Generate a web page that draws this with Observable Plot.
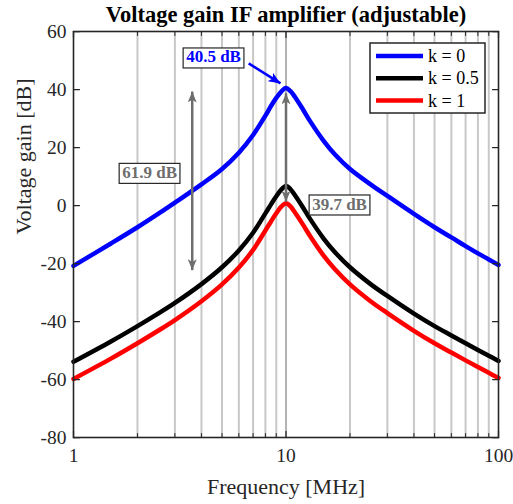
<!DOCTYPE html>
<html>
<head>
<meta charset="utf-8">
<script src="https://cdn.jsdelivr.net/npm/d3@7"></script>
<script src="https://cdn.jsdelivr.net/npm/@observablehq/plot@0.6"></script>
<style>
html, body { margin: 0; padding: 0; background: #fff; }
#chart { width: 513px; height: 504px; }
</style>
</head>
<body>
<div id="chart"></div>
<script>
// ---- data ----
const freqMHz = [1, 1.5, 2, 2.5, 3, 4, 5, 6, 7, 8, 8.5, 9, 9.5, 10, 10.5, 11, 12, 13, 15, 17, 20, 25, 30, 40, 50, 60, 70, 80, 90, 100];
const gainK0  = [-20.8, -13.1, -7.5, -2.9, 1.0, 7.3, 12.6, 18.2, 24.3, 31.0, 34.3, 37.1, 39.3, 40.5, 39.4, 37.5, 33.2, 29.0, 22.4, 17.6, 12.6, 7.3, 3.3, -2.9, -7.5, -11.0, -14.0, -16.5, -18.6, -20.5];
const gainK05 = [-53.9, -46.9, -41.6, -37.3, -33.6, -27.1, -21.3, -15.5, -9.4, -2.7, 0.4, 3.2, 5.5, 6.7, 5.6, 3.6, -0.6, -4.7, -11.3, -16.1, -21.3, -27.1, -31.2, -37.3, -41.6, -44.8, -47.5, -49.8, -51.8, -53.6];
const gainK1  = [-59.8, -52.8, -47.5, -43.2, -39.5, -33.0, -27.2, -21.4, -15.3, -8.6, -5.5, -2.7, -0.4, 0.8, -0.3, -2.3, -6.5, -10.6, -17.2, -22.0, -27.2, -33.0, -37.1, -43.2, -47.5, -50.7, -53.4, -55.7, -57.7, -59.5];
const seriesNames = ["k = 0", "k = 0.5", "k = 1"];
const seriesColors = ["#0000ff", "#000000", "#ff0000"];

const yTicks = [-80, -60, -40, -20, 0, 20, 40, 60];
const xTicks = [1, 10, 100];
const xMinor = [2, 3, 4, 5, 6, 7, 8, 9, 20, 30, 40, 50, 60, 70, 80, 90];

const chartTitle = "Voltage gain IF amplifier (adjustable)";
const xLabel = "Frequency [MHz]";
const yLabel = "Voltage gain [dB]";

// annotations
const noteLabels = ["40.5 dB", "61.9 dB", "39.7 dB"];
const noteFreq = [4.56, 2.28, 17.86];
const noteGain = [51.2, 11.4, 0.5];
const noteColors = ["#0000ff", "#6e6e6e", "#6e6e6e"];
const spanFreq = [3.62, 10];
const spanTop = [39.3, 38.7];
const spanBottom = [-22.3, 1.3];
const pointerFreq = [6.67, 9.42];
const pointerGain = [49.0, 42.1];

// ---- build ----
const gains = [gainK0, gainK05, gainK1];
const rows = seriesNames.flatMap((name, s) => freqMHz.map((f, i) => ({series: name, f, g: gains[s][i]})));
const spans = spanFreq.map((f, i) => ({f, top: spanTop[i], bottom: spanBottom[i]}));
const pointer = [{x1: pointerFreq[0], y1: pointerGain[0], x2: pointerFreq[1], y2: pointerGain[1]}];

const tickShape = {draw(ctx, l) { ctx.moveTo(0, 0); ctx.lineTo(0, -l); }};

function head(len, half) {
  return (color) => {
    const m = d3.create("svg:marker")
      .attr("viewBox", `${-len} ${-half} ${len} ${2 * half}`)
      .attr("markerWidth", len).attr("markerHeight", 2 * half)
      .attr("markerUnits", "userSpaceOnUse")
      .attr("refX", 0).attr("refY", 0)
      .attr("orient", "auto-start-reverse");
    m.append("path")
      .attr("d", `M${-len},${-half}L0,0L${-len},${half}L${-len * 0.75},0Z`)
      .attr("fill", color).attr("stroke", "none");
    return m.node();
  };
}
const grayHead = head(11, 4.5);
const blueHead = head(12, 5);

const serif = "Liberation Serif, Times New Roman, serif";

const noteMarks = noteLabels.map((lab, i) =>
  Plot.text([lab], {x: () => noteFreq[i], y: () => noteGain[i], text: d => d,
    fill: noteColors[i], fontWeight: "bold", fontSize: 17, fontFamily: serif, lineAnchor: "middle"}));

const tickStyle = {shape: tickShape, stroke: "#262626", anchor: "start"};

const plot = Plot.plot({
  width: 513, height: 504,
  marginLeft: 73, marginRight: 15, marginTop: 31, marginBottom: 67,
  style: {fontFamily: serif, fontSize: "19.5px", color: "#262626", background: "#fff", overflow: "visible"},
  x: {type: "log", domain: [1, 100]},
  y: {domain: [-80, 60]},
  color: {domain: seriesNames, range: seriesColors},
  marks: [
    Plot.ruleX(xMinor, {stroke: "#c8c8c8", strokeWidth: 2}),
    Plot.ruleX([10], {stroke: "#9a9a9a", strokeWidth: 1.5}),
    Plot.line(rows, {x: "f", y: "g", z: "series", stroke: "series", strokeWidth: 4.5, curve: "catmull-rom"}),
    Plot.link(spans, {x1: "f", x2: "f", y1: "top", y2: "bottom", stroke: "#6e6e6e", strokeWidth: 2.5,
      markerStart: grayHead, markerEnd: grayHead}),
    Plot.link(pointer, {x1: "x1", y1: "y1", x2: "x2", y2: "y2", stroke: "#0000ff", strokeWidth: 2.5, markerEnd: blueHead}),
    ...noteMarks,
    Plot.axisY(yTicks, {tickSize: 0, tickPadding: 7, label: null, tickFormat: d => String(d),
      fontFamily: serif, fontSize: 19.5, fill: "#262626"}),
    Plot.axisX(xTicks, {tickSize: 0, tickPadding: 11, label: null, tickFormat: d => String(d),
      fontFamily: serif, fontSize: 19.5, fill: "#262626"}),
    Plot.vector(yTicks, {y: d => d, frameAnchor: "left", length: 6, rotate: 90, strokeWidth: 1.25, ...tickStyle}),
    Plot.vector(yTicks, {y: d => d, frameAnchor: "right", length: 6, rotate: -90, strokeWidth: 1.25, ...tickStyle}),
    Plot.vector(xTicks, {x: d => d, frameAnchor: "bottom", length: 6, rotate: 0, strokeWidth: 1.25, ...tickStyle}),
    Plot.vector(xTicks, {x: d => d, frameAnchor: "top", length: 6, rotate: 180, strokeWidth: 1.25, ...tickStyle}),
    Plot.vector(xMinor, {x: d => d, frameAnchor: "bottom", length: 4, rotate: 0, strokeWidth: 1, ...tickStyle}),
    Plot.vector(xMinor, {x: d => d, frameAnchor: "top", length: 4, rotate: 180, strokeWidth: 1, ...tickStyle}),
    Plot.frame({stroke: "#262626", strokeWidth: 1.6}),
    Plot.text([chartTitle], {text: d => d, frameAnchor: "top", dy: -17, fontWeight: "bold", fontSize: 22.5, fontFamily: serif, fill: "#000", lineAnchor: "middle"}),
    Plot.text([xLabel], {text: d => d, frameAnchor: "bottom", dy: 49, fontSize: 22, fontFamily: serif, fill: "#262626", lineAnchor: "middle"}),
    Plot.text([yLabel], {text: d => d, frameAnchor: "left", dx: -50, rotate: -90, fontSize: 22, fontFamily: serif, fill: "#262626", lineAnchor: "middle"})
  ]
});

document.getElementById("chart").append(plot);

// boxes behind annotation labels
const NS = "http://www.w3.org/2000/svg";
plot.querySelectorAll("text").forEach(t => {
  if (!noteLabels.includes(t.textContent)) return;
  const b = t.getBBox();
  const r = document.createElementNS(NS, "rect");
  r.setAttribute("x", b.x - 3);
  r.setAttribute("y", b.y + 0.5);
  r.setAttribute("width", b.width + 6);
  r.setAttribute("height", b.height + 1);
  r.setAttribute("transform", t.getAttribute("transform") || "");
  r.setAttribute("fill", "#fff");
  r.setAttribute("stroke", "#262626");
  r.setAttribute("stroke-width", 1.2);
  t.parentNode.insertBefore(r, t);
});

// legend
const W = 513, mR = 15, mT = 31;
const boxW = 115, boxH = 70;
const bx = W - mR - 13 - boxW, by = mT + 12;
const lg = d3.select(plot).append("g")
  .attr("font-family", serif).attr("font-size", 18).attr("text-anchor", "start");
lg.append("rect").attr("x", bx).attr("y", by).attr("width", boxW).attr("height", boxH)
  .attr("fill", "#fff").attr("stroke", "#262626").attr("stroke-width", 1.5);
seriesNames.forEach((name, i) => {
  const cy = by + 13 + i * 22.3;
  lg.append("line").attr("x1", bx + 6).attr("x2", bx + 53).attr("y1", cy).attr("y2", cy)
    .attr("stroke", seriesColors[i]).attr("stroke-width", 4.5);
  lg.append("text").attr("x", bx + 58).attr("y", cy).attr("dy", "0.34em")
    .attr("text-anchor", "start").attr("fill", "#000").text(name);
});
</script>
</body>
</html>
